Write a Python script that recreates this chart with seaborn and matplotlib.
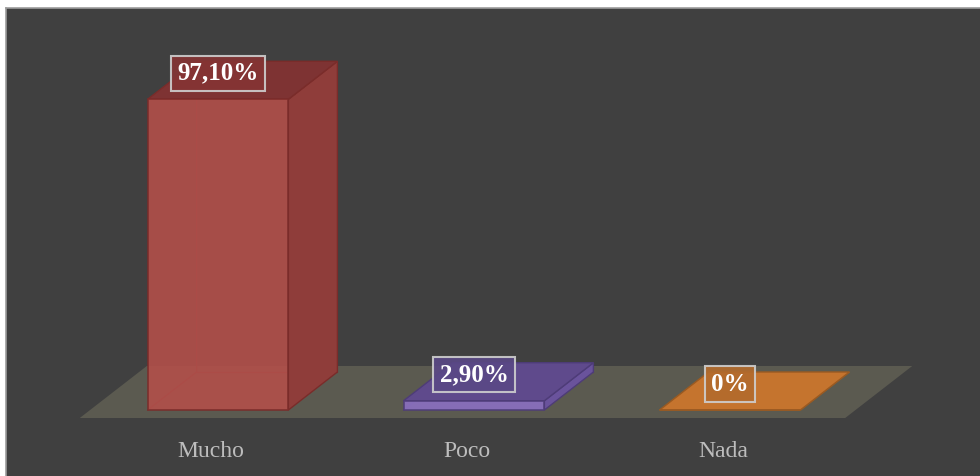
import matplotlib
matplotlib.use("Agg")
import matplotlib.pyplot as plt
import matplotlib.transforms as mtransforms
from matplotlib.patches import Polygon
import numpy as np
import pandas as pd
import seaborn as sns

# Survey answers and their shares (%)
categories = ["Mucho", "Poco", "Nada"]
percentages = [97.10, 2.90, 0.0]
value_labels = ["97,10%", "2,90%", "0%"]

# Face colours per bar: front, side, top, label box
front_colors = ["#b24f4a", "#8b70c2", "#c8782f"]
side_colors = ["#8f3d3a", "#6a539c", "#a86227"]
top_colors = ["#7e3333", "#5f4a8c", "#c5742e"]
box_colors = ["#853434", "#5a4886", "#b36b2c"]
edge_colors = ["#7a2c2a", "#4e3c78", "#9a5a22"]

sns.set_theme(style="dark")
plt.rcParams["font.family"] = ["Liberation Serif", "DejaVu Serif"]

W, H = 980, 476
fig = plt.figure(figsize=(W / 100, H / 100), dpi=100, facecolor="white")
ax = fig.add_axes([6 / W, 0, (W - 6) / W, (H - 8) / H])
ax.set_facecolor("#404040")

df = pd.DataFrame({"categoria": categories, "porcentaje": percentages})

# pixel scale of the plot area: 256 px per category, 3.2 px per percent
px_x, px_y = 256.0, 3.2

# oblique depth of the bars and of the floor, in data units
dx, dy = 49 / px_x, 38 / px_y
floor_front, floor_depth = -8 / px_y, 52 / px_y
floor_dx = floor_depth * dx / dy

sns.barplot(data=df, x="categoria", y="porcentaje", hue="categoria",
            palette=front_colors, saturation=1, width=0.55, legend=False,
            ax=ax, zorder=4, linewidth=1.2)
ax.set_xlim((6 - 218) / px_x, (W - 218) / px_x)
ax.set_ylim(-(H - 410) / px_y, (410 - 8) / px_y)

# floor slab under the bars
x_left, x_right = -0.54, 2.45
floor = Polygon([(x_left, floor_front), (x_right, floor_front),
                 (x_right + floor_dx, floor_front + floor_depth),
                 (x_left + floor_dx, floor_front + floor_depth)],
                closed=True, facecolor="#5b5a50", edgecolor="none", zorder=1)
ax.add_patch(floor)

bars = [p for c in ax.containers for p in c]
for i, bar in enumerate(bars):
    x0, w, h = bar.get_x(), bar.get_width(), bar.get_height()
    bar.set_edgecolor(edge_colors[i])
    bar.set_alpha(0.9)
    # back box edges seen through the translucent bar
    ax.plot([x0, x0 + dx, x0 + dx], [0, dy, h + dy], color=edge_colors[i],
            lw=0.9, alpha=0.8, zorder=2)
    ax.plot([x0 + dx, x0 + w + dx], [dy, dy], color=edge_colors[i],
            lw=0.9, alpha=0.8, zorder=2)
    side = Polygon([(x0 + w, 0), (x0 + w + dx, dy), (x0 + w + dx, h + dy),
                    (x0 + w, h)], closed=True, facecolor=side_colors[i],
                   edgecolor=edge_colors[i], lw=1.0, zorder=3)
    top = Polygon([(x0, h), (x0 + dx, h + dy), (x0 + w + dx, h + dy),
                   (x0 + w, h)], closed=True, facecolor=top_colors[i],
                  edgecolor=edge_colors[i], lw=1.0, zorder=3)
    ax.add_patch(side)
    ax.add_patch(top)
    ax.annotate(value_labels[i], xy=(x0 + w / 2, h), xytext=(0, 18.7),
                textcoords="offset points", ha="center", va="center",
                fontsize=18, fontweight="bold", color="white", zorder=6,
                bbox=dict(boxstyle="square,pad=0.25", facecolor=box_colors[i],
                          alpha=0.9, edgecolor="#cfcfcf", linewidth=1.5))

# category names sit inside the dark panel, under the floor
ax.set_xticks(range(len(categories)))
ax.set_xticklabels(categories, fontsize=17, color="#bdbdbd")
ax.tick_params(axis="x", length=0, pad=-25)
offset = mtransforms.ScaledTranslation(-7 / 100, 0, fig.dpi_scale_trans)
for lbl in ax.get_xticklabels():
    lbl.set_transform(lbl.get_transform() + offset)
ax.set_yticks([])
ax.set_xlabel("")
ax.set_ylabel("")
ax.grid(False)

for side_name in ["right", "bottom"]:
    ax.spines[side_name].set_visible(False)
for side_name in ["top", "left"]:
    ax.spines[side_name].set_color("#9c9c9c")
    ax.spines[side_name].set_linewidth(1.2)

fig.savefig("out.png", dpi=100, facecolor="white")
